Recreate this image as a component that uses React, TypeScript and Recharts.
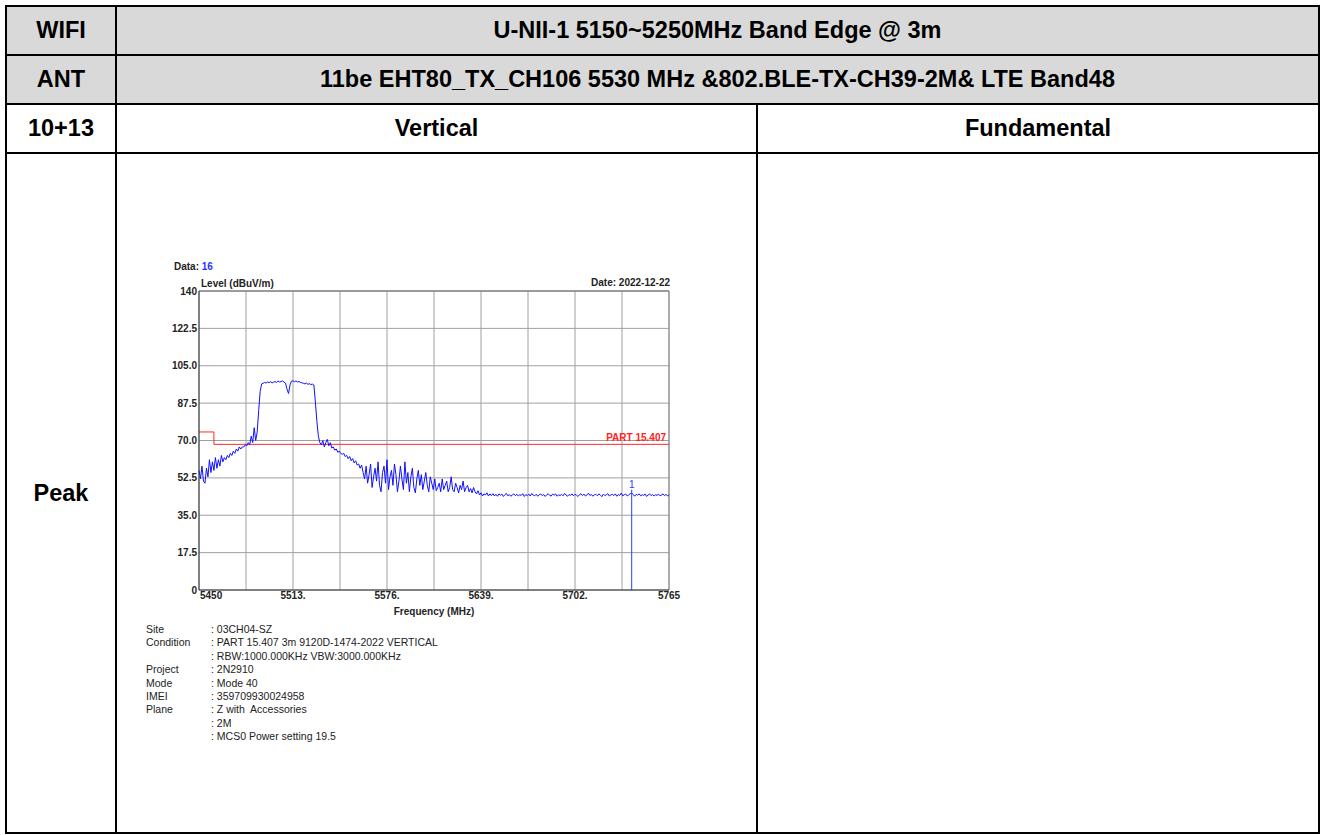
import { ComposedChart, Line, XAxis, YAxis, CartesianGrid, ReferenceLine } from 'recharts'

// trace, 1 MHz apart starting at 5450 MHz
const FREQ_START = 5450
const FREQ_STEP = 1
const LEVELS = [
    56, 52, 58, 51, 50, 57, 53, 61, 55, 60, // 5450
    56, 62, 57, 61, 58, 63, 60, 62, 61, 63, // 5460
    62, 64, 63, 65, 64, 66, 65, 67, 66, 67, // 5470
    67, 68, 67.5, 69, 68, 72, 69, 76, 70, 74, // 5480
    84, 93, 96.5, 96.8, 97.2, 96.9, 97.4, 97.1, 97.5, 97.0, // 5490
    97.3, 97.6, 97.2, 97.8, 97.4, 97.6, 97.9, 97.3, 96.8, 94, // 5500
    92, 96, 97.8, 98.0, 97.5, 97.9, 97.4, 97.6, 97.2, 97.0, // 5510
    96.8, 96.5, 96.9, 96.3, 96.6, 96.2, 96.4, 96.0, 88, 79, // 5520
    72, 69, 68, 70, 67, 69, 70.5, 67.5, 69, 66.5, // 5530
    67, 65.5, 66, 64.5, 65, 64, 63.5, 64, 62.5, 63, // 5540
    61.5, 62.5, 60.5, 61.5, 59.5, 60.5, 58.5, 59, 57, 58.5, // 5550
    55, 52, 58, 50, 54, 59, 48, 53, 57, 51, // 5560
    60, 49, 46, 55, 58, 50, 61, 47, 53, 56, // 5570
    49, 59, 54, 46, 51, 58, 52, 47, 60, 50, // 5580
    55, 46, 53, 57, 48, 45.5, 52, 56, 49, 54, // 5590
    47, 51, 55, 49, 46, 53, 50, 47, 52, 46.5, // 5600
    48, 50, 46, 52, 47, 49, 51, 46, 48, 53, // 5610
    47, 46, 50, 48, 45.5, 49, 47, 51, 46, 48, // 5620
    49, 46, 47.5, 45.5, 48, 46, 45, 46.5, 44.5, 45.5, // 5630
    44, 45, 44.5, 45.5, 44, 45, 44.2, 45.1, 44.0, 44.8, // 5640
    43.9, 45.0, 44.4, 44.9, 43.8, 44.6, 45.2, 44.1, 44.7, 43.9, // 5650
    44.5, 45.0, 44.2, 44.8, 44.0, 44.6, 44.3, 45.1, 43.8, 44.7, // 5660
    44.2, 44.9, 44.0, 45.2, 44.4, 44.1, 44.8, 43.9, 44.6, 45.0, // 5670
    44.2, 44.7, 43.8, 44.5, 45.1, 44.3, 44.0, 44.9, 44.4, 45.0, // 5680
    43.9, 44.6, 44.2, 44.8, 44.1, 45.2, 44.5, 43.9, 44.7, 44.3, // 5690
    45.0, 44.1, 44.8, 44.4, 43.8, 44.6, 45.1, 44.2, 44.9, 44.0, // 5700
    44.5, 45.3, 44.3, 44.7, 43.9, 44.6, 44.8, 44.1, 45.0, 44.4, // 5710
    43.7, 44.9, 44.2, 44.6, 45.1, 44.0, 44.5, 44.8, 44.2, 45.0, // 5720
    43.9, 44.7, 44.3, 45.4, 44.1, 44.6, 44.9, 44.0, 44.5, 45.1, // 5730
    45.4, 44.7, 43.9, 44.8, 44.4, 45.0, 44.1, 44.6, 44.3, 44.9, // 5740
    43.8, 44.5, 45.0, 44.2, 44.7, 44.0, 44.6, 44.3, 44.9, 44.1, // 5750
    44.5, 45.0, 44.2, 44.8, 44.0, 44.6, // 5760
]

const LIMIT_FREQS = [5450, 5460, 5460, 5765]
const LIMIT_LEVELS = [74, 74, 68.2, 68.2]
const LIMIT_NAME = 'PART 15.407'

const MARKER_FREQS = [5740, 5740]
const MARKER_LEVELS = [0, 47]
const MARKER_NAME = '1'

const X_GRID = [5450, 5481.5, 5513, 5544.5, 5576, 5607.5, 5639, 5670.5, 5702, 5733.5, 5765]
const X_LABELS = ['5450', '', '5513.', '', '5576.', '', '5639.', '', '5702.', '', '5765']
const Y_TICKS = [0, 17.5, 35, 52.5, 70, 87.5, 105, 122.5, 140]
const Y_LABELS = ['0', '17.5', '35.0', '52.5', '70.0', '87.5', '105.0', '122.5', '140']

const INFO_KEYS = ['Site', 'Condition', '', 'Project', 'Mode', 'IMEI', 'Plane', '', '']
const INFO_VALUES = [
    '03CH04-SZ',
    'PART 15.407 3m 9120D-1474-2022 VERTICAL',
    'RBW:1000.000KHz VBW:3000.000KHz',
    '2N2910',
    'Mode 40',
    '359709930024958',
    'Z with  Accessories',
    '2M',
    'MCS0 Power setting 19.5',
]

const ROW_HEADS = ['WIFI', 'ANT', '10+13', 'Peak']
const BAND_TITLE = 'U-NII-1 5150~5250MHz Band Edge @ 3m'
const ANT_TITLE = '11be EHT80_TX_CH106 5530 MHz &802.BLE-TX-CH39-2M& LTE Band48'
const COL_HEADS = ['Vertical', 'Fundamental']

const FONT = "'Liberation Sans', Arial, sans-serif"

const trace = LEVELS.map((level, i) => ({ freq: FREQ_START + i * FREQ_STEP, level }))
const limit = LIMIT_FREQS.map((freq, i) => ({ freq, level: LIMIT_LEVELS[i] }))
const marker = MARKER_FREQS.map((freq, i) => ({ freq, level: MARKER_LEVELS[i] }))

const XTick = ({ x, y, payload }: any) => {
    const i = X_GRID.indexOf(payload.value)
    const label = X_LABELS[i]
    if (!label) return <g />
    return (
        <text x={i === 0 ? x + 1 : x} y={y} dy="0.71em" textAnchor={i === 0 ? 'start' : 'middle'}
            fontFamily={FONT} fontSize={10} fontWeight="bold" fill="#222">
            {label}
        </text>
    )
}

const YTick = ({ x, y, payload }: any) => {
    const label = Y_LABELS[Y_TICKS.indexOf(payload.value)]
    return (
        <text x={x} y={y} dy="0.36em" textAnchor="end" fontFamily={FONT} fontSize={10} fontWeight="bold" fill="#222">
            {label}
        </text>
    )
}

const MarkerLabel = ({ x, y, index }: any) => {
    if (index !== 1) return <g />
    return (
        <text x={x} y={y - 2} textAnchor="middle" fontFamily={FONT} fontSize={10} fill="#2a44ff">
            {MARKER_NAME}
        </text>
    )
}

const cellText = (text: string, left: number, top: number, width: number, height: number) => (
    <div style={{
        position: 'absolute', left, top, width, height,
        display: 'flex', alignItems: 'center', justifyContent: 'center',
        fontFamily: FONT, fontSize: '23.5px', fontWeight: 'bold', color: '#000', whiteSpace: 'nowrap'
    }}>
        {text}
    </div>
)

const line = (left: number, top: number, width: number, height: number) => (
    <div style={{ position: 'absolute', left, top, width, height, background: '#000' }} />
)

function SpectrumChart() {
    return (
        <div style={{ position: 'absolute', left: 140, top: 250, width: 560, height: 380 }}>
            <ComposedChart width={560} height={380} data={trace}
                margin={{ top: 41, right: 31, left: 19, bottom: 10 }}>
                <CartesianGrid stroke="#a0a0a0" strokeWidth={1} />
                <XAxis dataKey="freq" type="number" domain={[5450, 5765]} ticks={X_GRID}
                    interval={0} height={30} tick={<XTick />} tickLine={false} tickSize={0} tickMargin={2}
                    axisLine={{ stroke: '#333' }}
                    label={{ value: 'Frequency (MHz)', position: 'insideBottom', offset: 5, fontFamily: FONT, fontSize: 10, fontWeight: 'bold', fill: '#222' }} />
                <YAxis type="number" domain={[0, 140]} ticks={Y_TICKS} interval={0} width={40}
                    tick={<YTick />} tickLine={false} tickSize={0} tickMargin={2}
                    axisLine={{ stroke: '#333' }} />
                <ReferenceLine y={140} stroke="#666" />
                <ReferenceLine x={5765} stroke="#888" />
                <ReferenceLine y={68.2} stroke="none"
                    label={{ value: LIMIT_NAME, position: 'insideBottomRight', offset: 3, fontFamily: FONT, fontSize: 10, fontWeight: 'bold', fill: '#ff2222' }} />
                <Line data={limit} dataKey="level" type="linear" stroke="#ff2a2a" strokeWidth={1}
                    dot={false} activeDot={false} isAnimationActive={false} />
                <Line dataKey="level" type="linear" stroke="#1010ff" strokeWidth={1}
                    dot={false} activeDot={false} isAnimationActive={false} />
                <Line data={marker} dataKey="level" type="linear" stroke="#2040ff" strokeWidth={1}
                    dot={false} activeDot={false} isAnimationActive={false} label={<MarkerLabel />} />
            </ComposedChart>
        </div>
    )
}

export default function App() {
    const small = { position: 'absolute' as const, fontFamily: FONT, fontSize: '10px', fontWeight: 'bold' as const, color: '#222', lineHeight: '12px', whiteSpace: 'nowrap' as const }
    const info = { position: 'absolute' as const, fontFamily: FONT, fontSize: '10.5px', color: '#222', lineHeight: '13px', whiteSpace: 'pre' as const }
    return (
        <div style={{ position: 'absolute', left: 0, top: 0, width: 1320, height: 835, background: '#fff' }}>
            <div style={{ position: 'absolute', left: 5, top: 5, width: 1314, height: 99, background: '#d9d9d9' }} />

            {line(5, 5, 1314, 2)}
            {line(5, 54, 1314, 2)}
            {line(5, 103, 1314, 2)}
            {line(5, 152, 1314, 2)}
            {line(5, 832, 1314, 2)}
            {line(5, 5, 2, 829)}
            {line(115, 5, 2, 829)}
            {line(756, 103, 2, 731)}
            {line(1318, 5, 2, 829)}

            {cellText(ROW_HEADS[0], 7, 7, 108, 47)}
            {cellText(ROW_HEADS[1], 7, 56, 108, 47)}
            {cellText(ROW_HEADS[2], 7, 105, 108, 47)}
            {cellText(ROW_HEADS[3], 7, 154, 108, 678)}
            {cellText(BAND_TITLE, 117, 7, 1201, 47)}
            {cellText(ANT_TITLE, 117, 56, 1201, 47)}
            {cellText(COL_HEADS[0], 117, 105, 639, 47)}
            {cellText(COL_HEADS[1], 758, 105, 560, 47)}

            <div style={{ ...small, left: 174, top: 261 }}>
                Data: <span style={{ color: '#2233ff' }}>16</span>
            </div>
            <div style={{ ...small, left: 201, top: 278 }}>Level (dBuV/m)</div>
            <div style={{ ...small, left: 570, top: 277, width: 100, textAlign: 'right' }}>Date: 2022-12-22</div>

            <SpectrumChart />

            {INFO_KEYS.map((k, i) => (
                <div key={i} style={{ ...info, left: 146, top: 623 + i * 13.4 }}>{k}</div>
            ))}
            {INFO_VALUES.map((v, i) => (
                <div key={i} style={{ ...info, left: 211, top: 623 + i * 13.4 }}>{': ' + v}</div>
            ))}
        </div>
    )
}
